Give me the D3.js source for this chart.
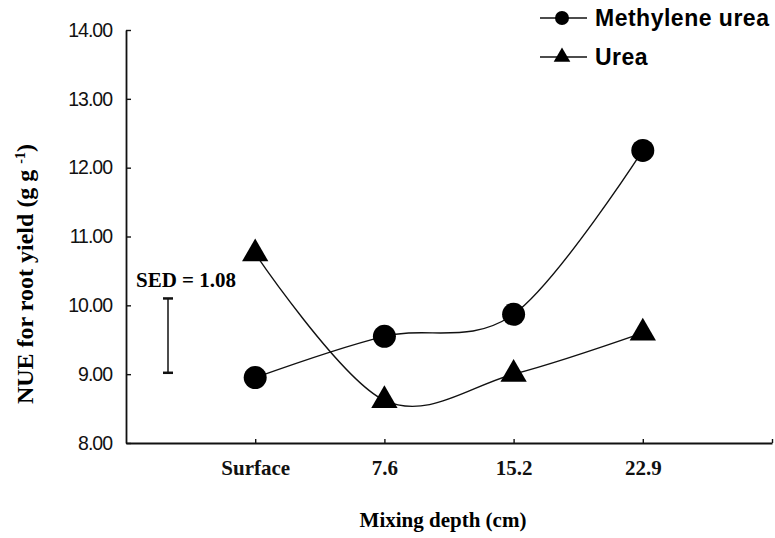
<!DOCTYPE html>
<html>
<head>
<meta charset="utf-8">
<script src="https://cdn.jsdelivr.net/npm/d3@7"></script>
<style>
  body { margin: 0; background: #fff; }
</style>
</head>
<body>
<div id="chart"></div>
<script>
// data
var depths = ["Surface", "7.6", "15.2", "22.9"];
var methyleneUrea = [8.95, 9.55, 9.87, 12.25];
var urea = [10.75, 8.62, 9.00, 9.60];
var yTicks = [8, 9, 10, 11, 12, 13, 14];
var sedLow = 9.02, sedValue = 1.08;

var width = 775, height = 538;
var plot = {left: 126, right: 772, top: 30, bottom: 443};

var serif = "'Liberation Serif', 'Times New Roman', serif";
var sans = "'Liberation Sans', Arial, sans-serif";

var svg = d3.select("#chart")
  .append("svg")
    .attr("width", width)
    .attr("height", height);

// scales
var x = d3.scaleLinear()
  .domain([0, depths.length + 1])
  .range([plot.left, plot.right]);

var y = d3.scaleLinear()
  .domain([8, 14])
  .range([plot.bottom, plot.top]);

// y axis (ticks point inward)
var yAxis = svg.append("g")
  .attr("transform", "translate(" + plot.left + ",0)")
  .call(d3.axisRight(y).tickValues(yTicks).tickSize(5).tickSizeOuter(0)
    .tickFormat(d3.format(".2f")));
yAxis.select(".domain").attr("stroke", "#111").attr("stroke-width", 1.8);
yAxis.selectAll(".tick line").attr("stroke", "#111").attr("stroke-width", 1.4);
yAxis.selectAll(".tick text")
  .attr("x", -14)
  .attr("text-anchor", "end")
  .style("font-family", sans)
  .style("font-size", "19.5px")
  .style("letter-spacing", "-1px")
  .attr("fill", "#111");

// x axis (ticks point inward too)
var xAxis = svg.append("g")
  .attr("transform", "translate(0," + plot.bottom + ")")
  .call(d3.axisBottom(x).tickValues([1, 2, 3, 4, 5]).tickSize(-4).tickSizeOuter(0)
    .tickFormat(function (d) { return depths[d - 1] || ""; }));
xAxis.select(".domain").attr("stroke", "#111").attr("stroke-width", 1.8);
xAxis.selectAll(".tick line").attr("stroke", "#111").attr("stroke-width", 1.4);
xAxis.selectAll(".tick text")
  .attr("y", 17)
  .style("font-family", serif)
  .style("font-weight", "bold")
  .style("font-size", "21px")
  .attr("fill", "#111");

// axis titles
svg.append("text")
  .attr("x", 443)
  .attr("y", 527)
  .attr("text-anchor", "middle")
  .style("font-family", serif)
  .style("font-weight", "bold")
  .style("font-size", "21px")
  .text("Mixing depth (cm)");

var yTitle = svg.append("text")
  .attr("transform", "translate(33,274) rotate(-90)")
  .attr("text-anchor", "middle")
  .style("font-family", serif)
  .style("font-weight", "bold")
  .style("font-size", "24px");
yTitle.append("tspan").text("NUE for root yield (g g ");
yTitle.append("tspan").attr("dy", -8).style("font-size", "14px").text("-1");
yTitle.append("tspan").attr("dy", 8).text(")");

// lines
var line = d3.line()
  .x(function (d, i) { return x(i + 1); })
  .y(function (d) { return y(d); })
  .curve(d3.curveCatmullRom.alpha(0));

[methyleneUrea, urea].forEach(function (series) {
  svg.append("path")
    .datum(series)
    .attr("d", line)
    .attr("fill", "none")
    .attr("stroke", "#111")
    .attr("stroke-width", 1.4);
});

// markers
svg.append("g")
  .selectAll("circle")
  .data(methyleneUrea)
  .enter()
  .append("circle")
    .attr("cx", function (d, i) { return x(i + 1); })
    .attr("cy", function (d) { return y(d); })
    .attr("r", 11.5)
    .attr("fill", "#000");

var tri = d3.symbol().type(d3.symbolTriangle).size(300);
svg.append("g")
  .selectAll("path")
  .data(urea)
  .enter()
  .append("path")
    .attr("d", tri)
    .attr("transform", function (d, i) { return "translate(" + x(i + 1) + "," + y(d) + ")"; })
    .attr("fill", "#000");

// SED bar
var sedX = 168;
svg.append("line")
  .attr("x1", sedX).attr("x2", sedX)
  .attr("y1", y(sedLow)).attr("y2", y(sedLow + sedValue))
  .attr("stroke", "#111").attr("stroke-width", 1.5);
[sedLow, sedLow + sedValue].forEach(function (v) {
  svg.append("line")
    .attr("x1", sedX - 5).attr("x2", sedX + 5)
    .attr("y1", y(v)).attr("y2", y(v))
    .attr("stroke", "#111").attr("stroke-width", 2.5);
});
svg.append("text")
  .attr("x", 136)
  .attr("y", 287)
  .style("font-family", serif)
  .style("font-weight", "bold")
  .style("font-size", "21px")
  .text("SED = " + sedValue.toFixed(2));

// legend
var legend = [
  {name: "Methylene urea", shape: "circle", y: 18},
  {name: "Urea", shape: "triangle", y: 57}
];
var lg = svg.append("g");
legend.forEach(function (d) {
  lg.append("line")
    .attr("x1", 540).attr("x2", 587)
    .attr("y1", d.y).attr("y2", d.y)
    .attr("stroke", "#111").attr("stroke-width", 1.4);
  if (d.shape === "circle") {
    lg.append("circle").attr("cx", 562).attr("cy", d.y).attr("r", 7).attr("fill", "#000");
  } else {
    lg.append("path")
      .attr("d", d3.symbol().type(d3.symbolTriangle).size(120))
      .attr("transform", "translate(562," + d.y + ")")
      .attr("fill", "#000");
  }
  lg.append("text")
    .attr("x", 595)
    .attr("y", d.y + 8)
    .style("font-family", sans)
    .style("font-weight", "bold")
    .style("font-size", "23px")
    .style("letter-spacing", "0.5px")
    .text(d.name);
});
</script>
</body>
</html>
